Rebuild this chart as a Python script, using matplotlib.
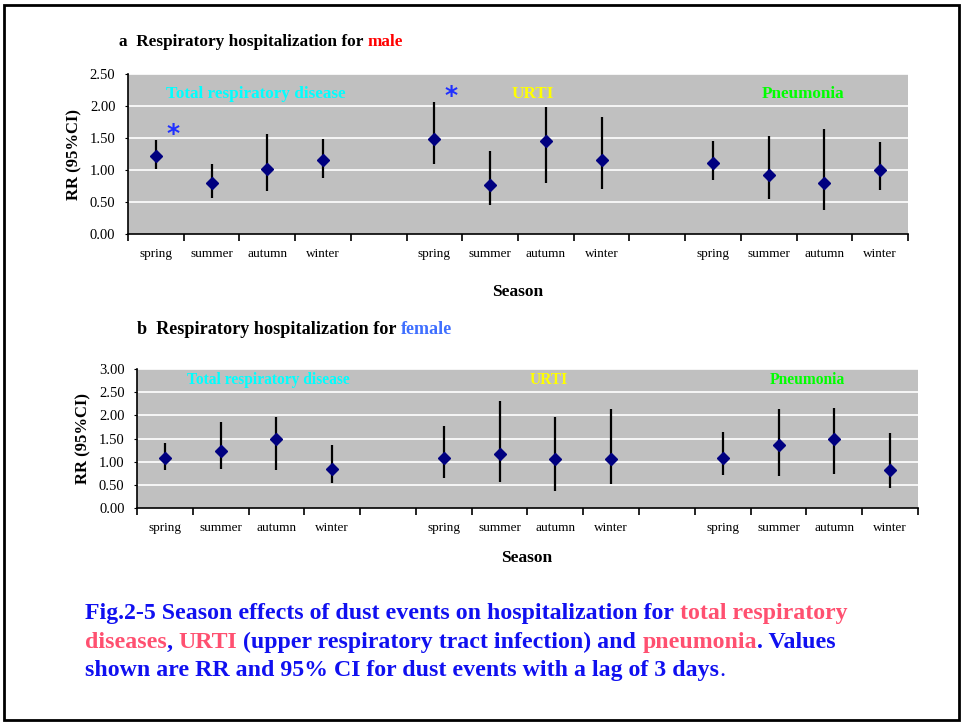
#!/usr/bin/env python3
"""Season effects of dust events on respiratory hospitalization (RR, 95% CI)."""

import matplotlib
matplotlib.use("Agg")
import matplotlib.pyplot as plt
from matplotlib.patches import Rectangle

plt.rcParams["font.family"] = ["Liberation Serif", "DejaVu Serif"]

SEASONS = ["spring", "summer", "autumn", "winter"]
GROUPS = ["Total respiratory disease", "URTI", "Pneumonia"]
GROUP_COLORS = ["#00FFFF", "#FFFF00", "#00FF00"]

# male: RR, lower and upper 95% CI per group (spring..winter)
male_rr_total = [1.22, 0.79, 1.01, 1.15]
male_lo_total = [1.01, 0.56, 0.67, 0.88]
male_hi_total = [1.47, 1.10, 1.57, 1.49]
male_rr_urti = [1.49, 0.77, 1.45, 1.15]
male_lo_urti = [1.09, 0.46, 0.80, 0.71]
male_hi_urti = [2.06, 1.30, 1.98, 1.83]
male_rr_pneu = [1.11, 0.92, 0.79, 1.00]
male_lo_pneu = [0.84, 0.54, 0.37, 0.69]
male_hi_pneu = [1.46, 1.53, 1.64, 1.44]

# female
female_rr_total = [1.08, 1.24, 1.49, 0.85]
female_lo_total = [0.82, 0.85, 0.83, 0.55]
female_hi_total = [1.41, 1.86, 1.97, 1.36]
female_rr_urti = [1.08, 1.16, 1.05, 1.05]
female_lo_urti = [0.65, 0.57, 0.37, 0.52]
female_hi_urti = [1.77, 2.30, 1.97, 2.14]
female_rr_pneu = [1.08, 1.35, 1.49, 0.83]
female_lo_pneu = [0.71, 0.68, 0.74, 0.43]
female_hi_pneu = [1.64, 2.14, 2.16, 1.62]

# significant estimates (group index, season index)
male_signif = [(0, 0), (1, 0)]

W, H = 962, 722
fig = plt.figure(figsize=(W / 100, H / 100), dpi=100)


def px(x0, y0, x1, y1):
    return [x0 / W, 1 - y1 / H, (x1 - x0) / W, (y1 - y0) / H]


def draw_panel(ax, rr, lo, hi, ymax, label_y, label_x, label_size, signif=()):
    ax.set_facecolor("#C0C0C0")
    ax.set_xlim(-0.5, 13.5)
    ax.set_ylim(0, ymax)
    yt = [i * 0.5 for i in range(int(ymax / 0.5) + 1)]
    ax.set_yticks(yt)
    ax.set_yticklabels([f"{v:.2f}" for v in yt], fontsize=10.5)
    for v in yt[1:]:
        ax.axhline(v, color="white", lw=1.2, zorder=1)
    for s in ["top", "right"]:
        ax.spines[s].set_visible(False)
    for s in ["left", "bottom"]:
        ax.spines[s].set_linewidth(1.2)

    pos_all, lab_all = [], []
    for g in range(3):
        xs = [g * 5 + i for i in range(4)]
        pos_all += xs
        lab_all += SEASONS
        ax.vlines(xs, lo[g], hi[g], color="black", lw=1.6, zorder=3)
        ax.plot(xs, rr[g], ls="none", marker="D", ms=6, color="#000080", zorder=4)
        ax.text(label_x[g], label_y, GROUPS[g], color=GROUP_COLORS[g],
                fontsize=label_size, fontweight="bold", ha="center", va="center")
    for g, i in signif:
        ax.text(g * 5 + i + 0.3, hi[g][i] + 0.1, "*", color="#2030FF",
                fontsize=18, fontweight="bold", family="DejaVu Sans",
                ha="center", va="center")

    ax.set_xticks(pos_all)
    ax.set_xticklabels(lab_all, fontsize=9.5)
    ax.set_xticks([b - 0.5 for b in range(15)], minor=True)
    ax.tick_params(axis="x", which="major", length=0, pad=10)
    ax.tick_params(axis="x", which="minor", length=5, width=1.2, direction="out")
    ax.tick_params(axis="y", length=2, pad=7)
    ax.set_ylabel("RR (95%CI)", fontsize=12, fontweight="bold")


ax_a = fig.add_axes(px(128, 74, 908, 234))
draw_panel(
    ax_a,
    [male_rr_total, male_rr_urti, male_rr_pneu],
    [male_lo_total, male_lo_urti, male_lo_pneu],
    [male_hi_total, male_hi_urti, male_hi_pneu],
    2.5, 2.19, [1.80, 6.77, 11.62], 12.3, male_signif,
)
ax_a.yaxis.set_label_coords(-0.058, 0.5)

ax_b = fig.add_axes(px(137, 369, 918, 508))
draw_panel(
    ax_b,
    [female_rr_total, female_rr_urti, female_rr_pneu],
    [female_lo_total, female_lo_urti, female_lo_pneu],
    [female_hi_total, female_hi_urti, female_hi_pneu],
    3.0, 2.76, [1.85, 6.89, 11.51], 11.2,
)
ax_b.yaxis.set_label_coords(-0.058, 0.5)

fig.text(518 / W, 1 - 292 / H, "Season", fontsize=12.5, fontweight="bold",
         ha="center", va="center")
fig.text(527 / W, 1 - 558 / H, "Season", fontsize=12.5, fontweight="bold",
         ha="center", va="center")

# overlay for multi-coloured text runs
ov = fig.add_axes([0, 0, 1, 1], zorder=-1)
ov.set_xlim(0, W)
ov.set_ylim(H, 0)
ov.axis("off")


def runs(x, y, parts, size, weight="bold"):
    prev = ov.text(x, y, parts[0][0], color=parts[0][1], fontsize=size,
                   fontweight=weight, ha="left", va="bottom")
    for text, color, *w in parts[1:]:
        prev = ov.annotate(text, xy=(1, 0), xycoords=prev, color=color,
                           fontsize=size, fontweight=w[0] if w else weight,
                           ha="left", va="bottom")
    return prev


runs(119, 50, [("a  Respiratory hospitalization for ", "black"), ("male", "#FF0000")], 12.4)
runs(137, 338, [("b  Respiratory hospitalization for ", "black"), ("female", "#3F6FFF")], 13.1)

BLUE = "#1010F0"
PINK = "#FF5070"
cap_size = 17.2
runs(85, 624, [("Fig.2-5 Season effects of dust events on hospitalization for ", BLUE),
               ("total respiratory", PINK)], cap_size)
runs(85, 653, [("diseases", PINK), (", ", BLUE), ("URTI", PINK),
               (" (upper respiratory tract infection) and ", BLUE),
               ("pneumonia", PINK), (". Values", BLUE)], cap_size)
runs(85, 681, [("shown are RR and 95% CI for dust events with a lag of 3 days", BLUE),
               (".", BLUE, "normal")], cap_size)

# outer frame
fig.patches.append(Rectangle((4 / W, 2 / H), 955 / W, 715 / H, transform=fig.transFigure,
                             fill=False, edgecolor="black", lw=2))

fig.savefig("out.png", dpi=100)
